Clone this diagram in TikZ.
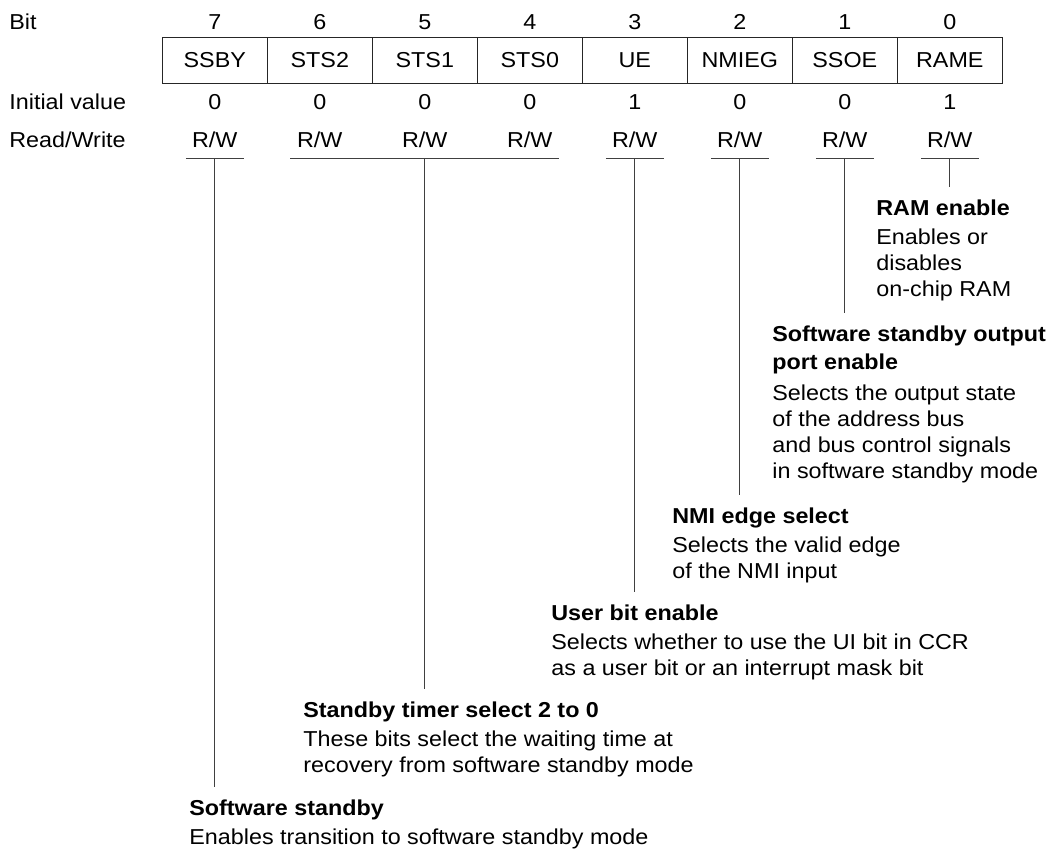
\documentclass[tikz,border=0pt]{standalone}
\usepackage{fontspec}
\setmainfont{Liberation Sans}[FakeStretch=1.08]
\usetikzlibrary{positioning}

\tikzset{
  cell/.style={draw=black!85, line width=0.5pt, minimum width=52.5pt, minimum height=22.8pt, inner sep=0pt},
  lbl/.style={anchor=base west, inner sep=0pt},
  val/.style={anchor=base, inner sep=0pt},
  desc/.style={anchor=north west, align=left, inner sep=0pt},
  lead/.style={draw=black!75, line width=0.5pt}
}

\begin{document}
\begin{tikzpicture}[x=0.5pt, y=-0.5pt, font=\fontsize{10.8}{13}\selectfont]
    \useasboundingbox (0,0) rectangle (1051,849);

    % row labels
    \node[lbl] (bitlbl) at (9,30) {Bit};
    \node[lbl] (initlbl) at (9,110) {Initial value};
    \node[lbl] (rwlbl) at (9,148) {Read/Write};

    % register cells
    \node[cell] (b7) at (214.8,60.5) {SSBY};
    \node[cell] (b6) at (319.8,60.5) {STS2};
    \node[cell] (b5) at (424.8,60.5) {STS1};
    \node[cell] (b4) at (529.8,60.5) {STS0};
    \node[cell] (b3) at (634.8,60.5) {UE};
    \node[cell] (b2) at (739.8,60.5) {NMIEG};
    \node[cell] (b1) at (844.8,60.5) {SSOE};
    \node[cell] (b0) at (949.8,60.5) {RAME};

    % bit numbers
    \node[val] (n7) at (214.8,30) {7};
    \node[val] (n6) at (319.8,30) {6};
    \node[val] (n5) at (424.8,30) {5};
    \node[val] (n4) at (529.8,30) {4};
    \node[val] (n3) at (634.8,30) {3};
    \node[val] (n2) at (739.8,30) {2};
    \node[val] (n1) at (844.8,30) {1};
    \node[val] (n0) at (949.8,30) {0};

    % initial values
    \node[val] (i7) at (214.8,110) {0};
    \node[val] (i6) at (319.8,110) {0};
    \node[val] (i5) at (424.8,110) {0};
    \node[val] (i4) at (529.8,110) {0};
    \node[val] (i3) at (634.8,110) {1};
    \node[val] (i2) at (739.8,110) {0};
    \node[val] (i1) at (844.8,110) {0};
    \node[val] (i0) at (949.8,110) {1};

    % read/write
    \node[val] (rw7) at (214.8,148) {R/W};
    \node[val] (rw6) at (319.8,148) {R/W};
    \node[val] (rw5) at (424.8,148) {R/W};
    \node[val] (rw4) at (529.8,148) {R/W};
    \node[val] (rw3) at (634.8,148) {R/W};
    \node[val] (rw2) at (739.8,148) {R/W};
    \node[val] (rw1) at (844.8,148) {R/W};
    \node[val] (rw0) at (949.8,148) {R/W};

    % points on the underlines
    \coordinate (u7) at (214.8,159);
    \coordinate (u5) at (424.8,159);
    \coordinate (u3) at (634.8,159);
    \coordinate (u2) at (739.8,159);
    \coordinate (u1) at (844.8,159);
    \coordinate (u0) at (949.8,159);

    \draw[lead] ([xshift=-14.5pt]u7) -- ([xshift=14.5pt]u7);
    \draw[lead] (290,159) -- (559,159);
    \draw[lead] ([xshift=-14.5pt]u3) -- ([xshift=14.5pt]u3);
    \draw[lead] ([xshift=-14.5pt]u2) -- ([xshift=14.5pt]u2);
    \draw[lead] ([xshift=-14.5pt]u1) -- ([xshift=14.5pt]u1);
    \draw[lead] ([xshift=-14.5pt]u0) -- ([xshift=14.5pt]u0);

    % bit descriptions
    \node[desc] (rame) at (876,199) {\textbf{RAM enable}\\[1.5pt]Enables or\\disables\\on-chip RAM};
    \node[desc] (ssoe) at (772,325) {\textbf{Software standby output}\\[1pt]\textbf{port enable}\\[2.5pt]Selects the output state\\of the address bus\\and bus control signals\\in software standby mode};
    \node[desc] (nmieg) at (672,507) {\textbf{NMI edge select}\\[1.5pt]Selects the valid edge\\of the NMI input};
    \node[desc] (ue) at (551,604) {\textbf{User bit enable}\\[1.5pt]Selects whether to use the UI bit in CCR\\as a user bit or an interrupt mask bit};
    \node[desc] (sts) at (303,701) {\textbf{Standby timer select 2 to 0}\\[1.5pt]These bits select the waiting time at\\recovery from software standby mode};
    \node[desc] (ssby) at (189,799) {\textbf{Software standby}\\[1.5pt]Enables transition to software standby mode};

    % leader lines
    \draw[lead] (u0) -- ([yshift=6pt]u0 |- rame.north);
    \draw[lead] (u1) -- ([yshift=6pt]u1 |- ssoe.north);
    \draw[lead] (u2) -- ([yshift=6pt]u2 |- nmieg.north);
    \draw[lead] (u3) -- ([yshift=6pt]u3 |- ue.north);
    \draw[lead] (u5) -- ([yshift=6pt]u5 |- sts.north);
    \draw[lead] (u7) -- ([yshift=6pt]u7 |- ssby.north);
\end{tikzpicture}
\end{document}
